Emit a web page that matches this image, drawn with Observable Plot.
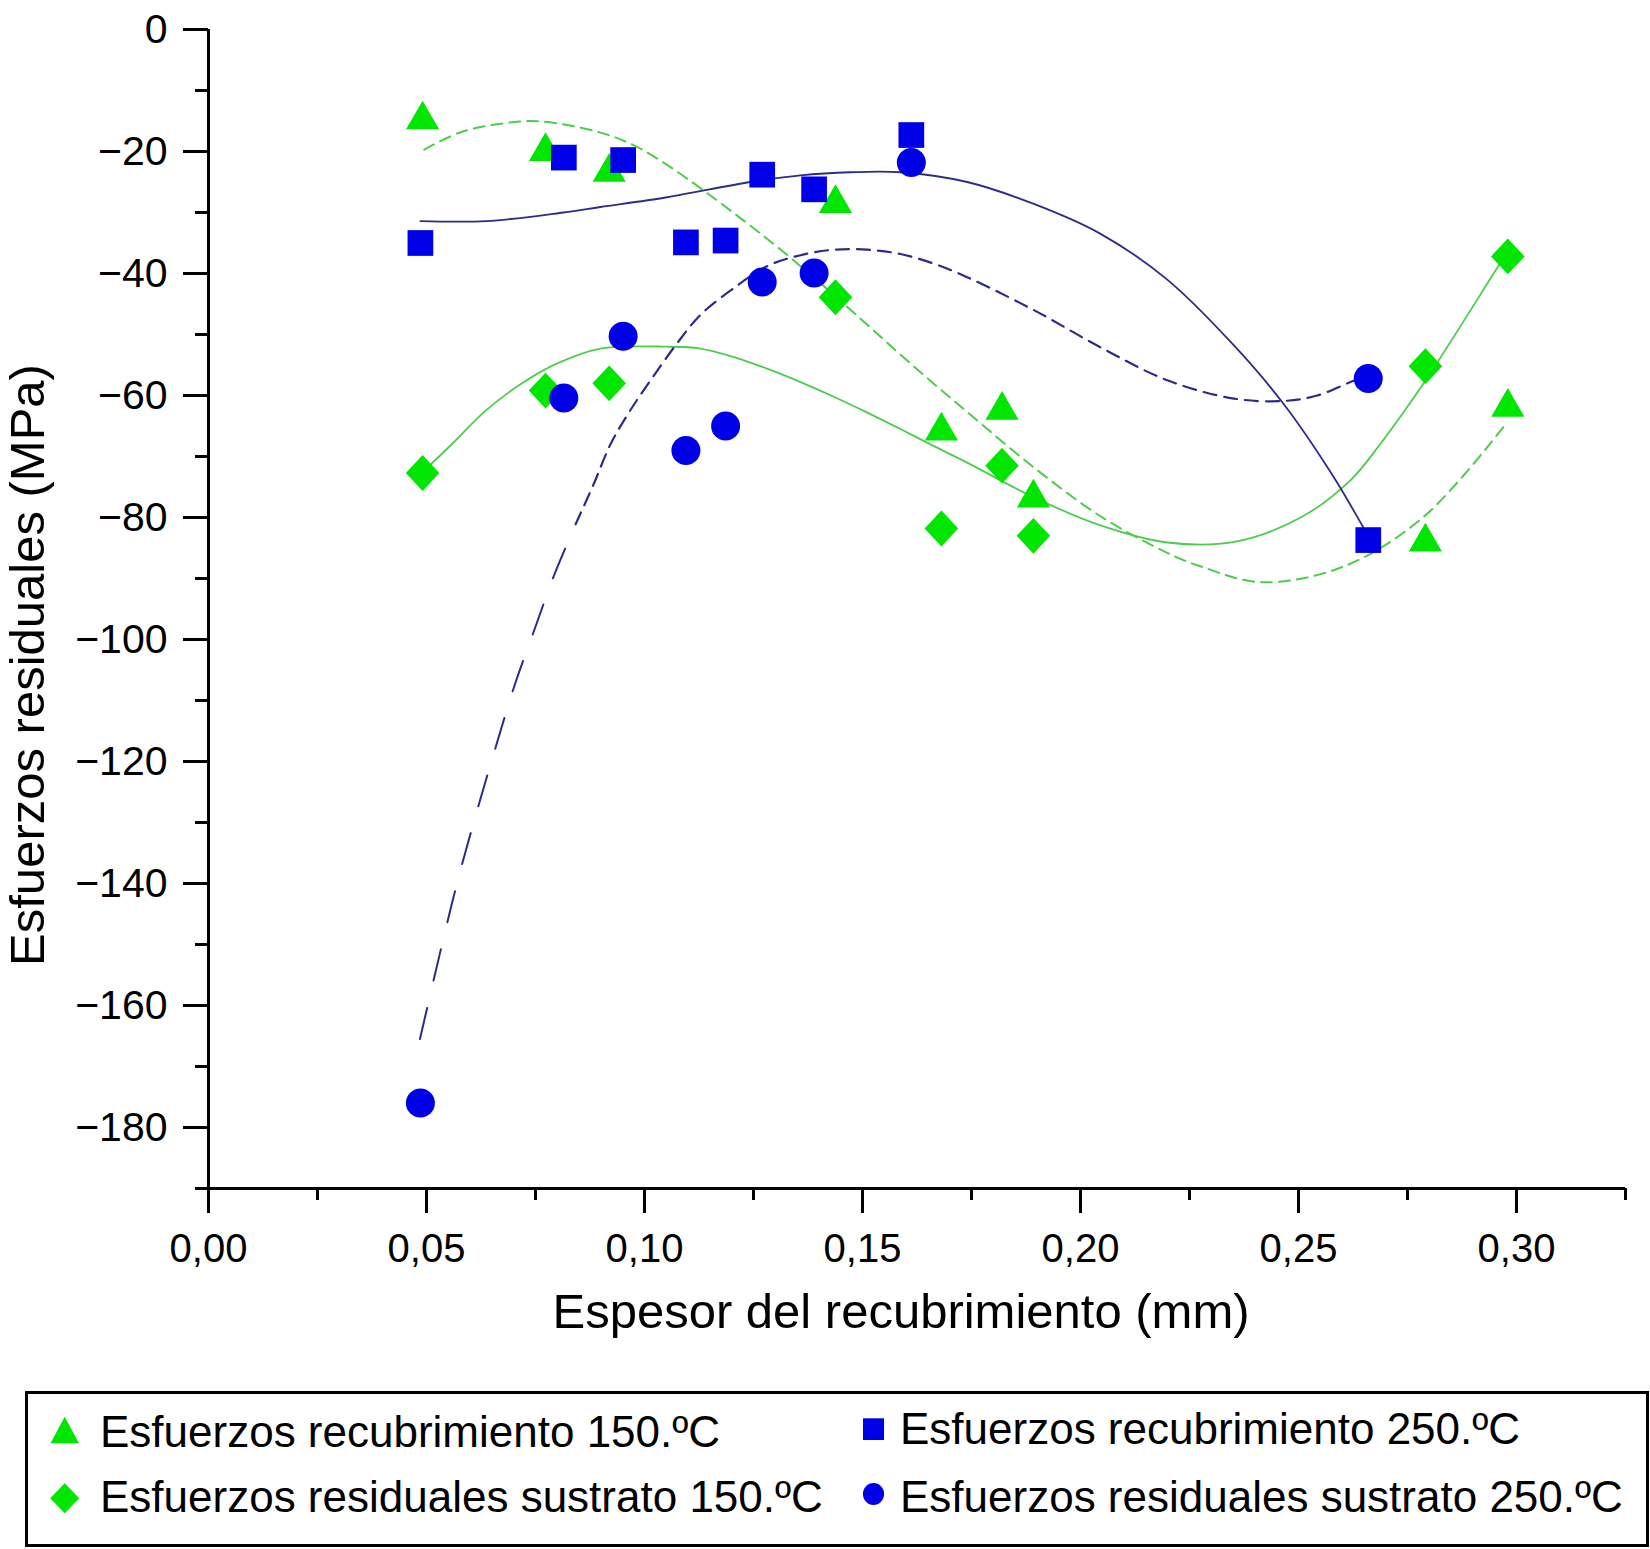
<!DOCTYPE html>
<html>
<head>
<meta charset="utf-8">
<script src="https://cdn.jsdelivr.net/npm/d3@7"></script>
<script src="https://cdn.jsdelivr.net/npm/@observablehq/plot@0.6"></script>
<style>
  body { margin: 0; background: white; }
  #chart svg { display: block; }
</style>
</head>
<body>
<div id="chart"></div>
<script>
// medidas a 150 ºC
const espesor150 = [0.0491, 0.0773, 0.0919, 0.1438, 0.1681, 0.1820, 0.1892, 0.2791, 0.2980]
const recub150 = [-14.8, -20.0, -23.4, -28.5, -65.8, -62.4, -76.8, -84.0, -61.9]
const sustrato150 = [-72.7, -59.2, -58.0, -43.9, -81.8, -71.5, -83.0, -55.2, -37.2]

// medidas a 250 ºC
const espesor250 = [0.0486, 0.0815, 0.0951, 0.1095, 0.1186, 0.1270, 0.1389, 0.1612, 0.2660]
const recub250 = [-35.0, -21.0, -21.4, -34.9, -34.6, -23.8, -26.2, -17.3, -83.7]
const sustrato250 = [-176.0, -60.4, -50.3, -69.0, -65.0, -41.4, -39.9, -21.8, -57.2]

// curvas de ajuste
const fitRecub150X = [0.0495, 0.058, 0.0697, 0.0767, 0.0899, 0.0976, 0.1052, 0.1128, 0.1205, 0.1281, 0.1358, 0.1434, 0.1511, 0.1587, 0.1664, 0.174, 0.1893, 0.2046, 0.2199, 0.2275, 0.2414, 0.2601, 0.2787, 0.2973]
const fitRecub150Y = [-19.7, -16.8, -15.2, -15.1, -16.9, -19.0, -22.2, -26.0, -30.1, -34.3, -38.8, -43.5, -48.4, -53.3, -58.1, -62.7, -71.8, -79.8, -85.8, -88.0, -90.6, -88.1, -79.9, -64.9]

const fitSustrato150X = [0.0489, 0.0555, 0.0637, 0.0719, 0.0801, 0.0899, 0.1052, 0.1128, 0.1205, 0.1281, 0.1358, 0.1434, 0.1511, 0.1587, 0.1664, 0.174, 0.1893, 0.2046, 0.2199, 0.2352, 0.2505, 0.2619, 0.2688, 0.2787, 0.2961, 0.2982]
const fitSustrato150Y = [-72.7, -68.2, -62.4, -58.0, -54.7, -52.3, -52.0, -52.3, -53.7, -55.6, -57.8, -60.2, -62.8, -65.5, -68.3, -71.0, -76.7, -81.3, -84.1, -84.0, -80.0, -73.9, -67.9, -58.0, -38.5, -36.2]

const fitRecub250X = [0.0486, 0.0638, 0.0814, 0.0899, 0.1052, 0.1243, 0.1358, 0.1472, 0.1587, 0.174, 0.1893, 0.2046, 0.2199, 0.2352, 0.2466, 0.2581, 0.2646, 0.2666]
const fitRecub250Y = [-31.4, -31.4, -30.0, -29.1, -27.5, -25.0, -23.9, -23.4, -23.4, -25.0, -28.6, -33.5, -41.0, -51.8, -61.4, -73.4, -81.3, -83.8]

// el tramo empinado tiene trazos mas largos
const fitSustrato250aX = [0.0485, 0.053, 0.0571, 0.0617, 0.0661, 0.0703, 0.0752, 0.0793, 0.0842]
const fitSustrato250aY = [-165.5, -151.7, -139.7, -127.8, -117.1, -107.3, -97.5, -89.4, -81.1]
const fitSustrato250bX = [0.0842, 0.0883, 0.0922, 0.0965, 0.1014, 0.1071, 0.1128, 0.1205, 0.1281, 0.1358, 0.1434, 0.1511, 0.1587, 0.1664, 0.174, 0.1893, 0.2046, 0.2199, 0.2352, 0.2466, 0.2543, 0.2619, 0.2661]
const fitSustrato250bY = [-81.1, -74.6, -68.0, -62.7, -57.5, -51.8, -46.8, -42.4, -38.8, -37.0, -36.1, -36.1, -36.8, -38.4, -40.6, -46.0, -52.1, -57.5, -60.5, -60.9, -60.0, -57.8, -56.6]

const ticksX = [0, 0.05, 0.10, 0.15, 0.20, 0.25, 0.30]
const minorX = [0.025, 0.075, 0.125, 0.175, 0.225, 0.275, 0.325]
const ticksY = [0, -20, -40, -60, -80, -100, -120, -140, -160, -180]
const minorY = [-10, -30, -50, -70, -90, -110, -130, -150, -170]

const legendLabels = [
  'Esfuerzos recubrimiento 150.ºC',
  'Esfuerzos residuales sustrato 150.ºC',
  'Esfuerzos recubrimiento 250.ºC',
  'Esfuerzos residuales sustrato 250.ºC'
]

const pts = (xs, ys) => xs.map((x, i) => ({x, y: ys[i]}))

const green = '#00e600'
const blue = '#0000e8'
const greenLine = '#4ccd4c'
const blueLine = '#2c2c88'

// rombo casi cuadrado como el original
const diamond = {
  draw(ctx, size) {
    const r = Math.sqrt(size / Math.PI)
    ctx.moveTo(0, -1.28 * r)
    ctx.lineTo(1.2 * r, 0)
    ctx.lineTo(0, 1.28 * r)
    ctx.lineTo(-1.2 * r, 0)
    ctx.closePath()
  }
}

const fmtX = d => d3.format('.2f')(d).replace('.', ',')
const fmtY = d => d === 0 ? '0' : '\u2212' + Math.abs(d)

let chart = Plot.plot({
  width: 1650,
  height: 1385,
  marginLeft: 208,
  marginRight: 25,
  marginTop: 29,
  marginBottom: 197,
  x: {domain: [0, 0.325], label: null},
  y: {domain: [-190, 0], label: null},
  style: {
    fontFamily: "'Liberation Sans', Arial, sans-serif",
    background: 'white',
    color: 'black'
  },
  marks: [
    Plot.axisY(ticksY, {tickSize: 25, tickPadding: 16, fontSize: 41, strokeWidth: 3, tickFormat: fmtY, label: null}),
    Plot.axisY(minorY, {tickSize: 13, strokeWidth: 3, tickFormat: () => '', label: null}),
    Plot.axisX(ticksX, {tickSize: 25, tickPadding: 20, fontSize: 40, strokeWidth: 3, tickFormat: fmtX, label: null}),
    Plot.axisX(minorX, {tickSize: 12, strokeWidth: 3, tickFormat: () => '', label: null}),
    Plot.ruleX([0], {y1: -190, y2: 0, strokeWidth: 3}),
    Plot.ruleY([-190], {insetLeft: -13, strokeWidth: 3}),

    Plot.line(pts(fitRecub150X, fitRecub150Y), {x: 'x', y: 'y', curve: 'catmull-rom', stroke: greenLine, strokeWidth: 2, strokeDasharray: '11,7'}),
    Plot.line(pts(fitSustrato150X, fitSustrato150Y), {x: 'x', y: 'y', curve: 'catmull-rom', stroke: greenLine, strokeWidth: 1.8}),
    Plot.line(pts(fitRecub250X, fitRecub250Y), {x: 'x', y: 'y', curve: 'catmull-rom', stroke: blueLine, strokeWidth: 1.8}),
    Plot.line(pts(fitSustrato250aX, fitSustrato250aY), {x: 'x', y: 'y', curve: 'catmull-rom', stroke: blueLine, strokeWidth: 2, strokeDasharray: '32,28'}),
    Plot.line(pts(fitSustrato250bX, fitSustrato250bY), {x: 'x', y: 'y', curve: 'catmull-rom', stroke: blueLine, strokeWidth: 2.2, strokeDasharray: '13,8'}),

    Plot.dot(pts(espesor150, recub150), {x: 'x', y: 'y', symbol: 'triangle', r: 12.3, fill: green}),
    Plot.dot(pts(espesor150, sustrato150), {x: 'x', y: 'y', symbol: diamond, r: 14, fill: green}),
    Plot.dot(pts(espesor250, recub250), {x: 'x', y: 'y', symbol: 'square', r: 14.5, fill: blue}),
    Plot.dot(pts(espesor250, sustrato250), {x: 'x', y: 'y', symbol: 'circle', r: 14.5, fill: blue}),

    Plot.text(['Espesor del recubrimiento (mm)'], {frameAnchor: 'bottom', text: d => d, textAnchor: 'middle', dx: -16, dy: 124, fontSize: 49, lineAnchor: 'middle', fill: 'black'}),
    Plot.text(['Esfuerzos residuales (MPa)'], {frameAnchor: 'left', text: d => d, textAnchor: 'middle', rotate: -90, dx: -180, dy: 56, fontSize: 49, lineAnchor: 'middle', fill: 'black'})
  ]
})

d3.select('#chart').append(() => chart)

// leyenda debajo del grafico
const legend = d3.create('svg')
  .attr('width', 1650)
  .attr('height', 164)
  .style('display', 'block')
  .style('font-family', "'Liberation Sans', Arial, sans-serif")

legend.append('rect')
  .attr('x', 26.5).attr('y', 7.5)
  .attr('width', 1621).attr('height', 153)
  .attr('fill', 'none').attr('stroke', 'black').attr('stroke-width', 3)

legend.append('path').attr('d', 'M64.7,31.7L79,58.3L50.5,58.3Z').attr('fill', green)
legend.append('path').attr('d', 'M64.7,98.3L79.2,113.3L64.7,128.3L50.2,113.3Z').attr('fill', green)
legend.append('rect').attr('x', 863).attr('y', 33.3).attr('width', 21).attr('height', 21.7).attr('fill', blue)
legend.append('ellipse').attr('cx', 873.5).attr('cy', 109).attr('rx', 10.6).attr('ry', 11).attr('fill', blue)

const legendPos = [[100, 62], [100, 127], [900, 59], [900, 127]]
legendLabels.forEach((t, i) => {
  legend.append('text')
    .attr('x', legendPos[i][0]).attr('y', legendPos[i][1])
    .attr('font-size', 44).attr('fill', 'black')
    .text(t)
})

d3.select('#chart').append(() => legend.node())
</script>
</body>
</html>
